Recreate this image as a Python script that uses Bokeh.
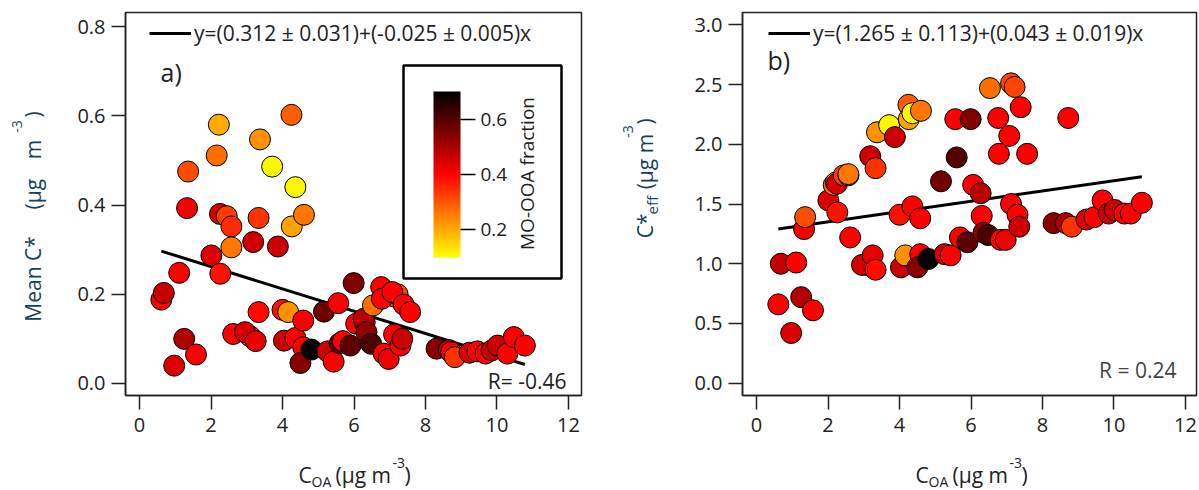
import numpy as np
from bokeh.plotting import figure
from bokeh.layouts import row, column
from bokeh.models import (Range1d, FixedTicker, LinearColorMapper, ColorBar, Label,
                          Legend, LegendItem, BoxAnnotation, PrintfTickFormatter,
                          ColumnDataSource)
from bokeh.embed import file_html
from bokeh.resources import INLINE

# ---------------- data ----------------
c_oa = [0.61, 0.68, 0.97, 1.11, 1.25, 1.33, 1.36, 1.58, 2.01, 2.16,
        2.22, 2.25, 2.26, 2.44, 2.57, 2.57, 2.62, 3.09, 2.95, 3.25,
        3.18, 3.33, 3.33, 3.37, 3.71, 3.87, 4.00, 4.04, 4.16, 4.25,
        4.26, 4.36, 4.36, 4.58, 4.60, 4.58, 4.50, 4.81, 5.16, 5.26,
        5.43, 5.56, 5.60, 5.69, 5.90, 5.99, 6.06, 6.30, 6.27, 6.35,
        6.48, 6.53, 7.12, 7.22, 6.76, 6.78, 6.83, 6.97, 7.07, 7.12,
        7.30, 7.35, 7.39, 7.57, 8.31, 8.65, 8.72, 8.82, 9.23, 9.45,
        9.68, 9.85, 10.02, 10.29, 10.47, 10.78]
mean_cstar = [0.188, 0.203, 0.040, 0.248, 0.100, 0.393, 0.475, 0.065, 0.287, 0.511,
              0.580, 0.380, 0.246, 0.375, 0.352, 0.305, 0.111, 0.106, 0.115, 0.095,
              0.317, 0.160, 0.371, 0.547, 0.486, 0.307, 0.165, 0.096, 0.160, 0.602,
              0.352, 0.440, 0.102, 0.141, 0.378, 0.081, 0.046, 0.076, 0.161, 0.072,
              0.049, 0.180, 0.090, 0.095, 0.085, 0.225, 0.134, 0.137, 0.145, 0.115,
              0.089, 0.175, 0.195, 0.200, 0.216, 0.190, 0.067, 0.055, 0.205, 0.110,
              0.085, 0.100, 0.177, 0.160, 0.078, 0.075, 0.070, 0.059, 0.069, 0.072,
              0.067, 0.074, 0.085, 0.067, 0.104, 0.085]
c_eff = [0.66, 1.00, 0.42, 1.01, 0.72, 1.29, 1.39, 0.61, 1.53, 1.66,
         1.68, 1.67, 1.43, 1.74, 1.74, 1.75, 1.22, 0.99, 0.99, 1.07,
         1.90, 0.95, 1.80, 2.10, 2.16, 2.06, 1.41, 0.97, 1.07, 2.33,
         2.21, 2.26, 1.48, 1.38, 2.28, 1.08, 0.97, 1.04, 1.69, 1.08,
         1.07, 2.21, 1.89, 1.22, 1.18, 2.21, 1.66, 1.40, 1.59, 1.26,
         1.24, 2.47, 2.51, 2.48, 2.22, 1.92, 1.20, 1.20, 2.07, 1.50,
         1.41, 1.31, 2.31, 1.92, 1.34, 1.34, 2.22, 1.31, 1.37, 1.39,
         1.53, 1.42, 1.45, 1.42, 1.42, 1.51]
mo_ooa = [0.40, 0.47, 0.44, 0.40, 0.49, 0.41, 0.31, 0.40, 0.44, 0.27,
          0.20, 0.45, 0.38, 0.33, 0.35, 0.26, 0.40, 0.325, 0.45, 0.43,
          0.46, 0.39, 0.34, 0.23, 0.11, 0.46, 0.38, 0.46, 0.23, 0.29,
          0.21, 0.11, 0.40, 0.40, 0.26, 0.40, 0.54, 0.70, 0.57, 0.45,
          0.40, 0.40, 0.60, 0.40, 0.59, 0.55, 0.40, 0.40, 0.48, 0.53,
          0.61, 0.27, 0.32, 0.32, 0.40, 0.40, 0.40, 0.42, 0.40, 0.40,
          0.40, 0.46, 0.40, 0.40, 0.54, 0.49, 0.40, 0.34, 0.44, 0.40,
          0.40, 0.47, 0.46, 0.40, 0.40, 0.40]

fit_a = (0.312, -0.025)
fit_b = (1.265, 0.043)
eq_a = "y=(0.312 \u00b1 0.031)+(-0.025 \u00b1 0.005)x"
eq_b = "y=(1.265 \u00b1 0.113)+(0.043 \u00b1 0.019)x"
r_a = "R= -0.46"
r_b = "R = 0.24"
x_ticks = [0, 2, 4, 6, 8, 10, 12]
ya_ticks = [0.0, 0.2, 0.4, 0.6, 0.8]
yb_ticks = [0.0, 0.5, 1.0, 1.5, 2.0, 2.5, 3.0]
cbar_ticks = [0.2, 0.4, 0.6]
cbar_low, cbar_high = 0.1, 0.7

FONT = "Open Sans"
TITLE_COLOR = "#173f5f"
AX_COLOR = "#222222"
MAIN_H = 447          # height of the row holding the two panels
TITLE_H = 490 - MAIN_H


def make_palette(n=256):
    cols = []
    for i in range(n):
        t = i / (n - 1)
        if t < 0.5:
            r, g = 255, int(round(255 * (1 - t / 0.5)))
        else:
            r, g = int(round(255 * (1 - (t - 0.5) / 0.5))), 0
        cols.append("#%02x%02x%02x" % (r, g, 0))
    return cols


mapper = LinearColorMapper(palette=make_palette(), low=cbar_low, high=cbar_high)
src = ColumnDataSource(dict(x=c_oa, ya=mean_cstar, yb=c_eff, frac=mo_ooa))


class Frame:
    """pixel geometry of a panel's frame in the 1199x490 window"""
    def __init__(self, left, top, w, h, xr, yr):
        self.left, self.top, self.w, self.h, self.xr, self.yr = left, top, w, h, xr, yr

    def dx(self, px):
        return self.xr[0] + (px - self.left) / self.w * (self.xr[1] - self.xr[0])

    def dy(self, py):
        return self.yr[1] - (py - self.top) / self.h * (self.yr[1] - self.yr[0])


def make_panel(width, bl, br, fr, yticks):
    p = figure(width=width, height=MAIN_H, min_border_left=bl, min_border_right=br,
               min_border_top=fr.top, min_border_bottom=MAIN_H - fr.top - fr.h,
               x_range=Range1d(*fr.xr), y_range=Range1d(*fr.yr),
               output_backend="svg", toolbar_location=None)
    p.grid.visible = False
    p.outline_line_color = AX_COLOR
    p.outline_line_width = 1.5
    p.background_fill_color = "white"
    p.border_fill_color = "white"
    for ax in (p.xaxis[0], p.yaxis[0]):
        ax.major_tick_out = 14
        ax.major_tick_in = 0
        ax.minor_tick_line_color = None
        ax.axis_line_color = AX_COLOR
        ax.axis_line_width = 1.5
        ax.major_tick_line_color = AX_COLOR
        ax.major_tick_line_width = 1.5
        ax.major_label_text_font = FONT
        ax.major_label_text_font_size = "20px"
        ax.major_label_text_color = AX_COLOR
    p.xaxis.ticker = FixedTicker(ticks=x_ticks)
    p.yaxis.ticker = FixedTicker(ticks=yticks)
    p.yaxis.formatter = PrintfTickFormatter(format="%.1f")
    p.xaxis.major_label_standoff = 8
    p.yaxis.major_label_standoff = 6
    return p


def make_strip(width, height):
    """blank figure whose data units are the strip's own pixels (y downwards)"""
    s = figure(width=width, height=height, x_range=Range1d(0, width), y_range=Range1d(height, 0),
               x_axis_location=None, y_axis_location=None, min_border=0,
               output_backend="svg", toolbar_location=None)
    s.grid.visible = False
    s.outline_line_color = None
    s.background_fill_color = "white"
    s.border_fill_color = "white"
    return s


def label(x, y, text, size, color=AX_COLOR, angle=0, align="left"):
    return Label(x=x, y=y, text=text, angle=angle, angle_units="deg", text_font=FONT,
                 text_font_size="%dpx" % size, text_color=color, text_align=align,
                 text_baseline="middle")


def add_text(p, fr, px, py, text, size, **kw):
    p.add_layout(label(fr.dx(px), fr.dy(py), text, size, **kw))


def add_strip_text(s, ox, oy, px, py, text, size, **kw):
    s.add_layout(label(px - ox, py - oy, text, size, **kw))


def add_vtitle(s, ox, px, pcy, text, size, color=TITLE_COLOR):
    """rotated (bottom-to-top) text piece centred at window pixel (px, pcy)"""
    s.add_layout(label(px - ox, pcy, text, size, color=color, angle=90, align="center"))


def add_fit(p, fit, text, loc):
    xs = np.array([min(c_oa), max(c_oa)])
    r = p.line(xs, fit[0] + fit[1] * xs, line_color="black", line_width=3)
    leg = Legend(items=[LegendItem(label=text, renderers=[r])], location=loc,
                 glyph_width=42, glyph_height=28, label_standoff=3, padding=0, margin=0,
                 spacing=0, border_line_color=None, background_fill_alpha=0,
                 label_text_font=FONT, label_text_font_size="21px", label_text_color=AX_COLOR)
    p.add_layout(leg)


# ---------------- panel a ----------------
fa = Frame(125, 12, 456, 383, (-0.392, 12.364), (-0.0269, 0.8314))
pa = make_panel(535, 60, 19, fa, ya_ticks)
add_fit(pa, fit_a, eq_a, (24, 383 - 35))
pa.scatter("x", "ya", source=src, size=21, fill_color={"field": "frac", "transform": mapper},
           line_color="black", line_width=1)

pa.add_layout(BoxAnnotation(left=fa.dx(403), right=fa.dx(561), top=fa.dy(65), bottom=fa.dy(278),
                            fill_color="white", fill_alpha=1, line_color="black", line_alpha=1,
                            line_width=2.5, level="annotation"))
cb = ColorBar(color_mapper=mapper, ticker=FixedTicker(ticks=cbar_ticks),
              formatter=PrintfTickFormatter(format="%.1f"),
              width=27, height=166, location=(433 - 125, 395 - 257), padding=0,
              major_tick_out=15, major_tick_in=0, major_tick_line_color="black",
              major_tick_line_width=1.5, minor_tick_line_color=None, bar_line_color=None,
              label_standoff=5, major_label_text_font=FONT, major_label_text_font_size="19px",
              major_label_text_color=AX_COLOR, border_line_color=None, background_fill_alpha=0)
pa.add_layout(cb)
add_text(pa, fa, 526, 173, "MO-OOA fraction", 19, angle=90, align="center")
add_text(pa, fa, 160, 71, "a)", 25)
add_text(pa, fa, 566, 380, r_a, 21, align="right")

# ---------------- panel b ----------------
fb = Frame(742, 12, 454, 383, (-0.392, 12.308), (-0.103, 3.103))
pb = make_panel(534, 77, 3, fb, yb_ticks)
add_fit(pb, fit_b, eq_b, (26, 383 - 35))
pb.scatter("x", "yb", source=src, size=21, fill_color={"field": "frac", "transform": mapper},
           line_color="black", line_width=1)
add_text(pb, fb, 767, 59, "b)", 25)
add_text(pb, fb, 1176, 369, r_b, 21, color="#444444", align="right")

# ---------------- axis titles (strips) ----------------
ya_strip = make_strip(65, MAIN_H)                   # window x 0..65
add_vtitle(ya_strip, 0, 32, 311, "Mean C*", 21)
add_vtitle(ya_strip, 0, 32, 212, "(\u00b5g", 21)
add_vtitle(ya_strip, 0, 32, 160, "m", 21)
add_vtitle(ya_strip, 0, 16.5, 133, "-3", 14)
add_vtitle(ya_strip, 0, 32, 119, ")", 21)

yb_strip = make_strip(65, MAIN_H)                   # window x 600..665
add_vtitle(yb_strip, 600, 644, 249, "C*", 21)
add_vtitle(yb_strip, 600, 651, 225, "eff", 15)
add_vtitle(yb_strip, 600, 644, 174, "(\u00b5g m", 21)
add_vtitle(yb_strip, 600, 627.5, 139, "-3", 14)
add_vtitle(yb_strip, 600, 644, 127, ")", 21)

x_strip = make_strip(1199, TITLE_H)                 # window y 447..490
for shift in (0, 617):
    add_strip_text(x_strip, 0, MAIN_H, 298 + shift, 474, "C", 21)
    add_strip_text(x_strip, 0, MAIN_H, 311 + shift, 481, "OA", 14)
    add_strip_text(x_strip, 0, MAIN_H, 335 + shift, 474, "(\u00b5g m", 21)
    add_strip_text(x_strip, 0, MAIN_H, 392 + shift, 462, "-3", 14)
    add_strip_text(x_strip, 0, MAIN_H, 404 + shift, 474, ")", 21)

layout = column(row(ya_strip, pa, yb_strip, pb), x_strip)
open("out.html", "w").write(file_html(layout, INLINE))
